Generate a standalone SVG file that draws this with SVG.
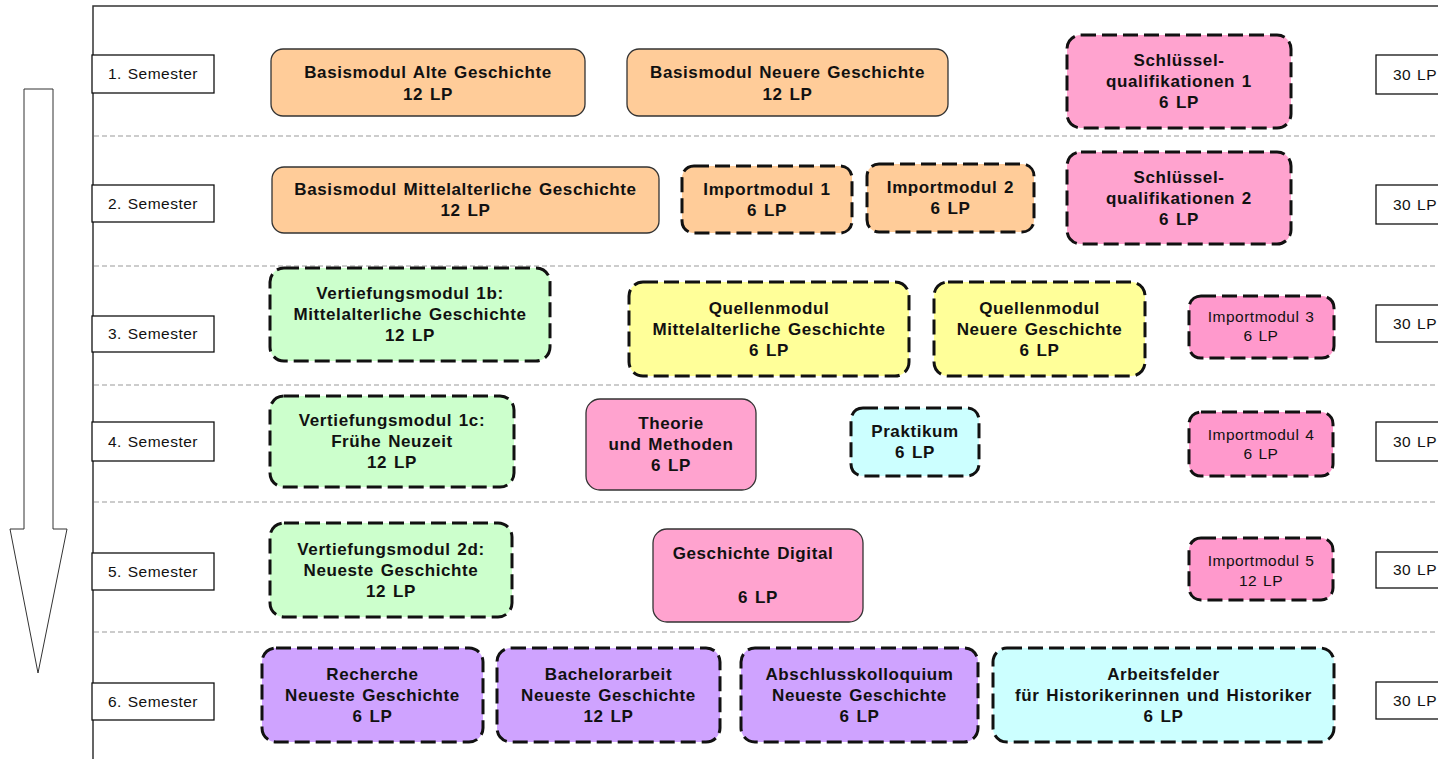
<svg xmlns="http://www.w3.org/2000/svg" width="1438" height="759" viewBox="0 0 1438 759">
<style>
text{font-family:"Liberation Sans",Arial,sans-serif;fill:#111;text-anchor:middle}
.b{font-size:17px;font-weight:bold;letter-spacing:0.6px;word-spacing:1.5px}
.r{font-size:15.5px;letter-spacing:0.5px;word-spacing:1px}
.lbl{fill:#fff;stroke:#111;stroke-width:1.3}
.solid{stroke:#333;stroke-width:1.3}
.dash{stroke:#111;stroke-width:3;stroke-dasharray:15 6}
.peach{fill:#FFCC99}.pink{fill:#FFA3CF}.pink2{fill:#FF99CC}.green{fill:#CCFFCC}.yellow{fill:#FFFF99}.cyan{fill:#CCFFFF}.purple{fill:#CFA3FF}
.sep{stroke:#999;stroke-width:1.2;stroke-dasharray:5 3;fill:none}
</style>
<rect width="1438" height="759" fill="#fff"/>
<g id="frame">
<path d="M93 759 V6 H1438" fill="none" stroke="#333" stroke-width="1.5"/>
<line class="sep" x1="94" y1="136" x2="1438" y2="136"/>
<line class="sep" x1="94" y1="266" x2="1438" y2="266"/>
<line class="sep" x1="94" y1="385" x2="1438" y2="385"/>
<line class="sep" x1="94" y1="502" x2="1438" y2="502"/>
<line class="sep" x1="94" y1="632" x2="1438" y2="632"/>
</g>
<g id="connectors">
<polygon points="24,89 53,89 53,529 67,529 38,673 10,529 24,529" fill="#fff" stroke="#333" stroke-width="1"/>
</g>
<g id="semesters">
<g id="sem1"><rect class="lbl" x="92" y="55" width="122" height="38"/><text class="r" x="153" y="79">1. Semester</text></g>
<g id="sem2"><rect class="lbl" x="92" y="185" width="122" height="37"/><text class="r" x="153" y="208.5">2. Semester</text></g>
<g id="sem3"><rect class="lbl" x="92" y="316" width="122" height="36"/><text class="r" x="153" y="339">3. Semester</text></g>
<g id="sem4"><rect class="lbl" x="92" y="422" width="122" height="39"/><text class="r" x="153" y="446.5">4. Semester</text></g>
<g id="sem5"><rect class="lbl" x="92" y="553" width="122" height="37"/><text class="r" x="153" y="576.5">5. Semester</text></g>
<g id="sem6"><rect class="lbl" x="92" y="683" width="122" height="37"/><text class="r" x="153" y="706.5">6. Semester</text></g>
</g>
<g id="totals">
<g id="lp1"><rect class="lbl" x="1376" y="55" width="80" height="39"/><text class="r" x="1393" y="80" style="text-anchor:start">30 LP</text></g>
<g id="lp2"><rect class="lbl" x="1376" y="185" width="80" height="39"/><text class="r" x="1393" y="210" style="text-anchor:start">30 LP</text></g>
<g id="lp3"><rect class="lbl" x="1376" y="305" width="80" height="37"/><text class="r" x="1393" y="328.5" style="text-anchor:start">30 LP</text></g>
<g id="lp4"><rect class="lbl" x="1376" y="422" width="80" height="39"/><text class="r" x="1393" y="447" style="text-anchor:start">30 LP</text></g>
<g id="lp5"><rect class="lbl" x="1376" y="552" width="80" height="36"/><text class="r" x="1393" y="575" style="text-anchor:start">30 LP</text></g>
<g id="lp6"><rect class="lbl" x="1376" y="682" width="80" height="37"/><text class="r" x="1393" y="705.5" style="text-anchor:start">30 LP</text></g>
</g>
<g id="n-basis-alte"><rect class="solid peach" x="271" y="49" width="314" height="67" rx="12"/><text class="b" x="428" y="77.5">Basismodul Alte Geschichte</text><text class="b" x="428" y="99.5">12 LP</text></g>
<g id="n-basis-neuere"><rect class="solid peach" x="627" y="49" width="321" height="67" rx="12"/><text class="b" x="787.5" y="77.5">Basismodul Neuere Geschichte</text><text class="b" x="787.5" y="99.5">12 LP</text></g>
<g id="n-sq1"><rect class="dash pink" x="1067" y="35" width="224" height="93" rx="14"/><text class="b" x="1179" y="66">Schlüssel-</text><text class="b" x="1179" y="87">qualifikationen 1</text><text class="b" x="1179" y="108">6 LP</text></g>
<g id="n-basis-mittel"><rect class="solid peach" x="272" y="167" width="387" height="66" rx="12"/><text class="b" x="465.5" y="195">Basismodul Mittelalterliche Geschichte</text><text class="b" x="465.5" y="216">12 LP</text></g>
<g id="n-import1"><rect class="dash peach" x="682" y="166" width="170" height="67" rx="12"/><text class="b" x="767" y="194.5">Importmodul 1</text><text class="b" x="767" y="215.5">6 LP</text></g>
<g id="n-import2"><rect class="dash peach" x="867" y="164" width="167" height="68" rx="12"/><text class="b" x="950.5" y="193">Importmodul 2</text><text class="b" x="950.5" y="214">6 LP</text></g>
<g id="n-sq2"><rect class="dash pink" x="1067" y="152" width="224" height="92" rx="14"/><text class="b" x="1179" y="182.5">Schlüssel-</text><text class="b" x="1179" y="203.5">qualifikationen 2</text><text class="b" x="1179" y="224.5">6 LP</text></g>
<g id="n-vert1b"><rect class="dash green" x="270" y="268" width="280" height="93" rx="14"/><text class="b" x="410" y="299">Vertiefungsmodul 1b:</text><text class="b" x="410" y="320">Mittelalterliche Geschichte</text><text class="b" x="410" y="341">12 LP</text></g>
<g id="n-quellen-mittel"><rect class="dash yellow" x="629" y="282" width="280" height="94" rx="14"/><text class="b" x="769" y="313.5">Quellenmodul</text><text class="b" x="769" y="334.5">Mittelalterliche Geschichte</text><text class="b" x="769" y="355.5">6 LP</text></g>
<g id="n-quellen-neuere"><rect class="dash yellow" x="934" y="282" width="211" height="94" rx="14"/><text class="b" x="1039.5" y="313.5">Quellenmodul</text><text class="b" x="1039.5" y="334.5">Neuere Geschichte</text><text class="b" x="1039.5" y="355.5">6 LP</text></g>
<g id="n-import3"><rect class="dash pink2" x="1189" y="296" width="145" height="62" rx="12"/><text class="r" x="1261" y="322">Importmodul 3</text><text class="r" x="1261" y="341">6 LP</text></g>
<g id="n-vert1c"><rect class="dash green" x="270" y="396" width="244" height="91" rx="14"/><text class="b" x="392" y="426">Vertiefungsmodul 1c:</text><text class="b" x="392" y="447">Frühe Neuzeit</text><text class="b" x="392" y="468">12 LP</text></g>
<g id="n-theorie"><rect class="solid pink" x="586" y="399" width="170" height="91" rx="14"/><text class="b" x="671" y="429">Theorie</text><text class="b" x="671" y="450">und Methoden</text><text class="b" x="671" y="471">6 LP</text></g>
<g id="n-praktikum"><rect class="dash cyan" x="851" y="408" width="128" height="68" rx="12"/><text class="b" x="915" y="437">Praktikum</text><text class="b" x="915" y="458">6 LP</text></g>
<g id="n-import4"><rect class="dash pink2" x="1189" y="412" width="144" height="64" rx="12"/><text class="r" x="1261" y="440">Importmodul 4</text><text class="r" x="1261" y="459">6 LP</text></g>
<g id="n-vert2d"><rect class="dash green" x="270" y="523" width="242" height="94" rx="14"/><text class="b" x="391" y="554.5">Vertiefungsmodul 2d:</text><text class="b" x="391" y="575.5">Neueste Geschichte</text><text class="b" x="391" y="596.5">12 LP</text></g>
<g id="n-digital"><rect class="solid pink" x="653" y="529" width="210" height="93" rx="14"/><text class="b" x="753" y="559">Geschichte Digital</text><text class="b" x="758" y="603">6 LP</text></g>
<g id="n-import5"><rect class="dash pink2" x="1189" y="538" width="144" height="62" rx="12"/><text class="r" x="1261" y="566">Importmodul 5</text><text class="r" x="1261" y="586">12 LP</text></g>
<g id="n-recherche"><rect class="dash purple" x="262" y="648" width="221" height="94" rx="14"/><text class="b" x="372.5" y="679.5">Recherche</text><text class="b" x="372.5" y="700.5">Neueste Geschichte</text><text class="b" x="372.5" y="721.5">6 LP</text></g>
<g id="n-bachelor"><rect class="dash purple" x="497" y="648" width="223" height="94" rx="14"/><text class="b" x="608.5" y="679.5">Bachelorarbeit</text><text class="b" x="608.5" y="700.5">Neueste Geschichte</text><text class="b" x="608.5" y="721.5">12 LP</text></g>
<g id="n-kolloquium"><rect class="dash purple" x="741" y="648" width="237" height="94" rx="14"/><text class="b" x="859.5" y="679.5">Abschlusskolloquium</text><text class="b" x="859.5" y="700.5">Neueste Geschichte</text><text class="b" x="859.5" y="721.5">6 LP</text></g>
<g id="n-arbeitsfelder"><rect class="dash cyan" x="993" y="648" width="341" height="94" rx="14"/><text class="b" x="1163.5" y="679.5">Arbeitsfelder</text><text class="b" x="1163.5" y="700.5">für Historikerinnen und Historiker</text><text class="b" x="1163.5" y="721.5">6 LP</text></g>
</svg>
